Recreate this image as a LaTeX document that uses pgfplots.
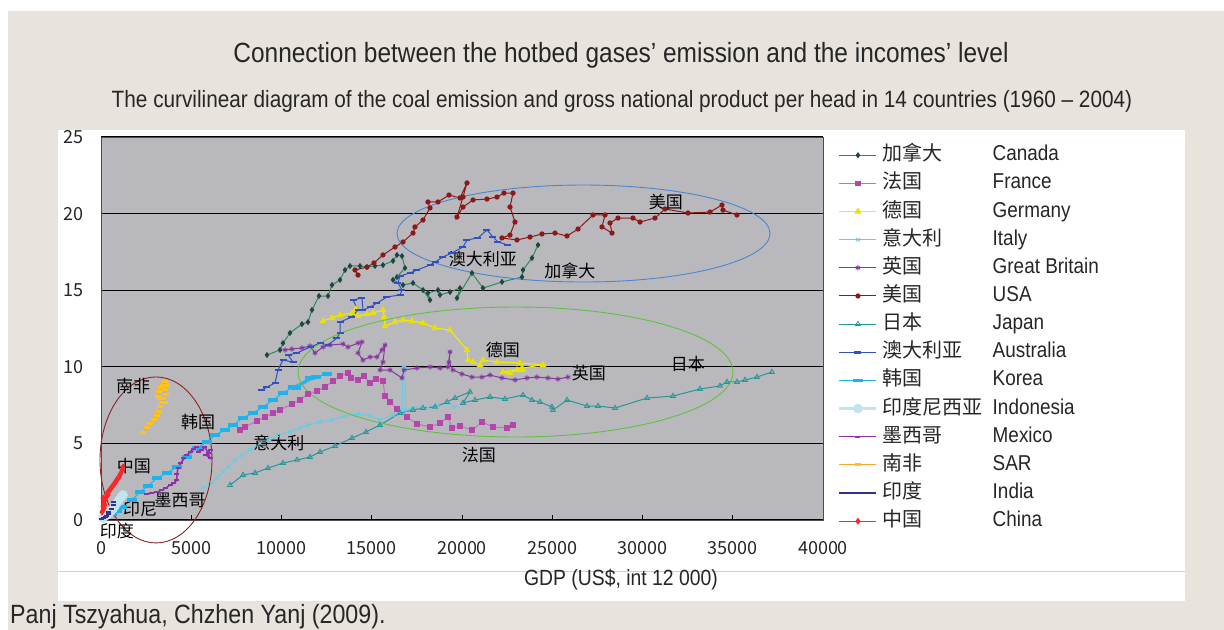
\documentclass[border=0pt]{standalone}
\usepackage{fontspec}
\setmainfont[FakeStretch=0.88]{Liberation Sans}
\newfontfamily\cjk{Noto Sans CJK SC}
\usepackage{pgfplots}
\pgfplotsset{compat=1.18}
\definecolor{bg}{RGB}{232,228,221}
\definecolor{plotbg}{RGB}{185,185,189}
\definecolor{canL}{RGB}{46,139,87}
\definecolor{canM}{RGB}{30,70,70}
\definecolor{fraL}{RGB}{200,110,200}
\definecolor{fraM}{RGB}{180,70,170}
\definecolor{gerL}{RGB}{240,240,0}
\definecolor{gerM}{RGB}{235,225,0}
\definecolor{itaL}{RGB}{100,205,230}
\definecolor{gbL}{RGB}{135,55,160}
\definecolor{usaL}{RGB}{140,25,25}
\definecolor{jpnL}{RGB}{40,150,150}
\definecolor{ausL}{RGB}{50,80,190}
\definecolor{korL}{RGB}{30,180,235}
\definecolor{indoL}{RGB}{195,228,238}
\definecolor{mexL}{RGB}{140,50,170}
\definecolor{sarL}{RGB}{245,165,40}
\definecolor{sarM}{RGB}{255,195,30}
\definecolor{indL}{RGB}{50,50,150}
\definecolor{chnL}{RGB}{250,40,40}
\definecolor{ellR}{RGB}{140,35,35}
\definecolor{ellB}{RGB}{74,134,208}
\definecolor{ellG}{RGB}{96,192,64}
\newcommand\lt[2]{\hspace*{5bp}\makebox[110bp][l]{\cjk\fontsize{20bp}{20bp}\selectfont #1}#2}
\newcommand\lab[3]{\node[font=\cjk\fontsize{17bp}{17bp}\selectfont, inner sep=0pt] at (axis cs:#1,#2) {#3};}
\begin{document}
\begin{tikzpicture}
\useasboundingbox (0,0) rectangle (1224bp,630bp);
\fill[white] (0,0) rectangle (1224bp,630bp);
\fill[bg] (8bp,0) rectangle (1224bp,619bp);
\fill[white] (58bp,29bp) rectangle (1185bp,500bp);
\draw[bg!80!gray, line width=0.8bp] (58bp,59bp) -- (1185bp,59bp);
\node[font=\fontsize{27.8bp}{30bp}\selectfont, text=black!85] at (621bp,575bp) {Connection between the hotbed gases’ emission and the incomes’ level};
\node[font=\fontsize{23.6bp}{26bp}\selectfont, text=black!85] at (622bp,529bp) {The curvilinear diagram of the coal emission and gross national product per head in 14 countries (1960 – 2004)};
\node[font=\fontsize{22bp}{24bp}\selectfont, text=black!85] at (621bp,50bp) {GDP (US\$, int 12 000)};
\node[font=\fontsize{26.4bp}{28bp}\selectfont, text=black!85, anchor=base west, inner sep=0pt] at (10bp,6.5bp) {Panj Tszyahua, Chzhen Yanj (2009).};
\begin{axis}[
 at={(101bp,110bp)}, anchor=south west,
 scale only axis, width=722bp, height=383bp,
 xmin=0, xmax=40000, ymin=0, ymax=25,
 clip=false,
 axis background/.style={fill=plotbg},
 axis line style={draw=black!70, line width=0.8bp},
 xtick={0,5000,...,40000}, ytick={0,5,...,25},
 tick pos=left, tick align=inside, major tick length=5bp,
 tick style={black, line width=0.8bp},
 ymajorgrids, grid style={black, line width=1.3bp},
 scaled x ticks=false,
 /pgf/number format/1000 sep={},
 /pgf/number format/assume math mode=true,
 ticklabel style={font=\cjk\fontsize{18bp}{18bp}\selectfont, text=black!85},
 xticklabel style={inner sep=0pt, yshift=-21bp},
 yticklabel style={inner sep=0pt, xshift=-17bp},
 legend cell align=left,
 legend style={at={(1.0208,0.9804)}, anchor=north west, draw=none, fill=none, inner sep=0pt,
   row sep=7.15bp, nodes={inner sep=0pt, text height=16bp, text depth=5bp},
   font=\fontsize{21.5bp}{21.5bp}\selectfont, text=black!85},
 legend image code/.code={\draw[mark repeat=2,mark phase=2] plot coordinates {(0bp,0bp)(18.5bp,0bp)(37bp,0bp)};},
 every axis plot/.append style={line width=1bp},
]
% Canada
\addplot[canL, mark=diamond*, mark size=2.3bp, mark options={fill=canM, draw=canM}] coordinates {(9196,10.77)(9917,11.10)(10083,11.55)(10471,12.21)(11135,12.79)(11468,12.92)(11689,13.71)(12077,14.62)(12576,14.62)(12797,15.34)(13241,15.67)(13518,16.32)(13795,16.58)(14349,16.58)(14736,16.51)(15180,16.58)(15623,16.64)(16177,16.91)(16398,17.30)(16675,17.23)(16842,16.45)(16398,15.86)(16177,15.67)(16731,15.34)(17285,15.47)(17839,15.01)(18227,14.36)(18116,14.82)(18670,15.01)(18781,14.69)(19335,14.88)(19889,15.14)(19722,14.49)(20553,16.12)(21163,15.14)(22215,15.54)(23323,15.86)(23379,16.32)(23877,17.10)(24210,17.95)};
% France
\addplot[fraL, mark=square*, mark size=2.2bp, mark options={fill=fraM, draw=fraM}] coordinates {(7700,5.87)(7977,6.07)(8642,6.46)(9086,6.72)(9529,6.98)(9917,7.18)(10581,7.57)(11025,7.83)(11468,8.22)(11966,8.42)(12410,8.68)(12853,9.07)(13241,9.40)(13684,9.60)(13850,9.27)(14238,9.14)(14570,9.40)(14903,8.94)(15235,9.20)(15623,9.07)(15734,8.09)(16011,7.70)(16398,7.25)(16952,6.72)(17506,6.27)(18227,6.07)(18781,6.33)(19223,6.72)(19445,6.01)(19889,6.14)(20553,5.87)(21107,6.40)(21717,6.07)(22493,6.01)(22825,6.20)};
% Germany
\addplot[gerL, mark=triangle*, mark size=3bp, mark options={fill=gerM, draw=gerM}] coordinates {(12299,12.99)(12797,13.19)(13241,13.38)(13905,13.51)(14127,13.77)(14238,13.32)(14736,13.45)(15069,13.51)(15623,13.71)(15678,13.25)(15734,12.66)(16288,12.92)(16731,13.05)(17229,12.99)(17839,12.86)(18504,12.53)(19335,12.40)(20276,11.10)(20332,10.44)(20609,10.31)(21000,10.12)(21163,10.44)(21938,10.31)(23212,10.25)(24487,10.12)(23323,9.92)(22271,9.66)(22659,9.60)(23046,9.79)(23379,9.79)};
% Italy
\addplot[itaL, mark=x, mark size=2.6bp, mark options={line width=0.8bp}] coordinates {(5651,2.09)(6149,2.42)(6426,2.74)(6759,3.13)(7036,3.46)(7424,3.92)(7811,4.24)(8254,4.57)(8809,5.03)(9252,5.22)(9750,5.55)(10471,5.74)(11025,6.01)(11468,6.20)(12133,6.40)(12797,6.53)(13518,6.79)(14238,6.92)(14903,6.79)(15457,6.53)(16177,6.85)(16675,7.18)(16731,9.99)(16842,9.99)(16842,7.18)(17285,7.31)(17784,7.38)(18116,7.31)(18670,7.51)(19223,7.64)(19612,7.38)};
% Great Britain
\addplot[gbL, mark=asterisk, mark size=2.6bp, mark options={line width=1bp}] coordinates {(10194,11.10)(10581,11.16)(11135,11.23)(11579,11.36)(11856,10.90)(12299,11.29)(12687,11.42)(13407,11.49)(13684,11.29)(14238,11.55)(14459,11.62)(14238,10.90)(14515,10.44)(14903,10.64)(15290,10.64)(15567,11.10)(15734,11.42)(15623,10.31)(15457,9.79)(16011,9.79)(16675,9.27)(16786,9.79)(17506,9.92)(18227,9.99)(18781,9.92)(19223,9.99)(19335,10.97)(19279,10.31)(19501,9.79)(19999,9.53)(20553,9.33)(21107,9.33)(21551,9.46)(22215,9.27)(22936,9.14)(23600,9.27)(24154,9.33)(24764,9.27)(25318,9.20)(25872,9.33)};
% USA
\addplot[usaL, mark=*, mark size=2.1bp, mark options={fill=usaL}] coordinates {(14238,15.99)(14072,16.32)(14736,16.51)(15124,16.78)(15623,17.30)(16288,17.82)(16731,18.15)(17285,18.73)(17396,19.13)(17839,19.58)(18227,20.37)(18116,20.76)(18670,20.76)(19279,21.21)(19889,21.02)(20276,22.00)(20055,21.08)(19722,19.78)(20055,20.43)(20609,20.89)(21384,20.95)(21938,21.08)(22326,21.34)(22825,21.34)(22659,20.43)(22936,19.45)(22659,18.60)(22215,18.41)(23046,18.28)(23767,18.47)(24431,18.67)(25152,18.73)(25816,18.54)(26426,18.99)(27257,19.91)(27922,19.91)(27755,19.13)(28309,18.73)(28199,19.39)(28642,19.71)(29473,19.71)(29861,19.45)(30692,19.71)(31246,20.30)(32520,20.04)(33739,20.10)(34403,20.56)(34459,20.23)(35234,19.91)};
% Japan
\addplot[jpnL, mark=triangle, mark size=2.8bp, mark options={line width=0.8bp}] coordinates {(7147,2.28)(7867,2.94)(8532,3.07)(9252,3.39)(10083,3.72)(10858,3.92)(11579,4.11)(12133,4.44)(12964,4.83)(13905,5.35)(14681,5.74)(15457,6.20)(16565,6.98)(17285,7.18)(17839,7.31)(18504,7.38)(19168,7.70)(19612,7.96)(20443,8.36)(20055,7.64)(20720,7.83)(21551,8.03)(22382,7.90)(23379,8.16)(23877,7.83)(24321,7.70)(24985,7.38)(25041,7.18)(25816,7.83)(26924,7.44)(27534,7.44)(28476,7.31)(30248,7.96)(31689,8.09)(33185,8.55)(34293,8.75)(34680,9.01)(35234,9.01)(35678,9.14)(36342,9.33)(37173,9.66)};
% Australia
\addplot[ausL, mark=-, mark size=3.5bp, mark options={line width=2.5bp}] coordinates {(8919,8.49)(9196,8.68)(9640,8.94)(9806,9.79)(10083,10.44)(10637,10.31)(10360,10.77)(10858,10.90)(11579,11.29)(12133,11.55)(12576,11.42)(13074,11.88)(13241,12.21)(13241,12.92)(13905,13.25)(14238,13.71)(13961,14.36)(14459,14.49)(14515,13.71)(14903,13.90)(15290,14.16)(15844,14.56)(16565,14.69)(16675,15.01)(16454,15.47)(16565,15.93)(17119,16.12)(17506,16.32)(18227,16.64)(18504,16.84)(18947,17.17)(19445,17.43)(20055,17.82)(20276,18.28)(20886,18.41)(21384,18.93)(21717,18.47)(21994,18.15)(22548,17.95)};
% Korea
\addplot[korL, mark=-, mark size=5bp, mark options={line width=3.5bp}] coordinates {(609,0.39)(886,0.59)(1163,0.85)(1717,1.31)(2161,1.83)(2604,2.22)(3102,2.74)(3656,3.07)(4210,3.46)(4764,4.11)(5318,4.70)(5872,5.09)(6316,5.55)(6870,5.87)(7313,6.20)(7867,6.66)(8421,6.98)(8975,7.38)(9529,7.83)(10083,8.29)(10637,8.68)(11579,9.27)(10803,8.62)(11911,9.33)(12520,9.53)};
% Indonesia
\addplot[indoL, line width=2.5bp, mark=*, mark size=3.5bp] coordinates {(111,0.13)(222,0.26)(332,0.33)(443,0.46)(554,0.59)(665,0.72)(776,0.91)(886,1.11)(997,1.31)(1108,1.50)(1219,1.63)};
% Mexico
\addplot[mexL, line width=1.5bp, mark=-, mark size=2.5bp, mark options={line width=2bp}] coordinates {(2548,1.70)(2825,1.76)(3102,1.83)(3379,1.96)(3601,2.09)(3823,2.28)(4044,2.42)(4210,2.61)(4210,3.00)(4266,3.39)(4432,3.72)(4598,4.05)(4764,4.24)(4931,4.44)(5097,4.63)(5318,4.77)(5374,4.44)(5595,4.57)(5761,4.77)(5928,4.37)(6039,4.05)(5817,4.24)(6039,4.57)};
% SAR
\addplot[sarL, mark=-, mark size=3bp, mark options={draw=sarM, line width=3bp}] coordinates {(2327,5.68)(2548,6.01)(2715,6.33)(2936,6.59)(3102,6.85)(3213,7.11)(3269,7.44)(3379,7.70)(3269,7.90)(3158,8.09)(3213,8.36)(3324,8.62)(3435,8.81)(3546,9.01)(3601,8.75)(3490,8.49)(3601,8.22)(3435,7.96)(3546,7.70)};
% India
\addplot[indL, line width=1.5bp, mark=-, mark size=2.5bp, mark options={line width=2bp}] coordinates {(55,0.07)(166,0.13)(222,0.20)(277,0.26)(388,0.39)(443,0.52)(554,0.72)(665,0.98)(720,1.17)};
% China
\addplot[chnL, line width=1.2bp, mark=diamond*, mark size=2.5bp] coordinates {(55,0.52)(111,1.44)(111,0.91)(111,0.65)(166,0.78)(166,1.04)(222,0.98)(222,1.31)(277,1.50)(332,1.70)(388,1.83)(388,1.63)(443,1.89)(499,1.96)(554,2.09)(609,2.15)(665,2.22)(720,2.35)(776,2.42)(831,2.55)(886,2.61)(942,2.74)(997,2.81)(1053,2.94)(1108,3.07)(1163,3.26)(1219,3.46)};
\legend{\lt{加拿大}{Canada},\lt{法国}{France},\lt{德国}{Germany},\lt{意大利}{Italy},\lt{英国}{Great Britain},\lt{美国}{USA},\lt{日本}{Japan},\lt{澳大利亚}{Australia},\lt{韩国}{Korea},\lt{印度尼西亚}{Indonesia},\lt{墨西哥}{Mexico},\lt{南非}{SAR},\lt{印度}{India},\lt{中国}{China}}
% ellipses
\draw[ellR, line width=0.9bp] (axis cs:3047,3.92) ellipse [x radius=56bp, y radius=83bp];
\draw[ellB, line width=0.9bp] (axis cs:26731,18.70) ellipse [x radius=186.5bp, y radius=48.5bp];
\draw[ellG, line width=0.9bp] (axis cs:22963,9.66) ellipse [x radius=217.5bp, y radius=65bp];
% labels
\lab{31301}{20.76}{美国}
\lab{21163}{17.04}{澳大利亚}
\lab{25983}{16.25}{加拿大}
\lab{22271}{11.10}{德国}
\lab{27035}{9.60}{英国}
\lab{32520}{10.18}{日本}
\lab{20941}{4.24}{法国}
\lab{9861}{5.03}{意大利}
\lab{5374}{6.40}{韩国}
\lab{1773}{8.75}{南非}
\lab{1828}{3.52}{中国}
\lab{4377}{1.31}{墨西哥}
\lab{2161}{0.72}{印尼}
\lab{886}{-0.72}{印度}
\end{axis}
\end{tikzpicture}
\end{document}
